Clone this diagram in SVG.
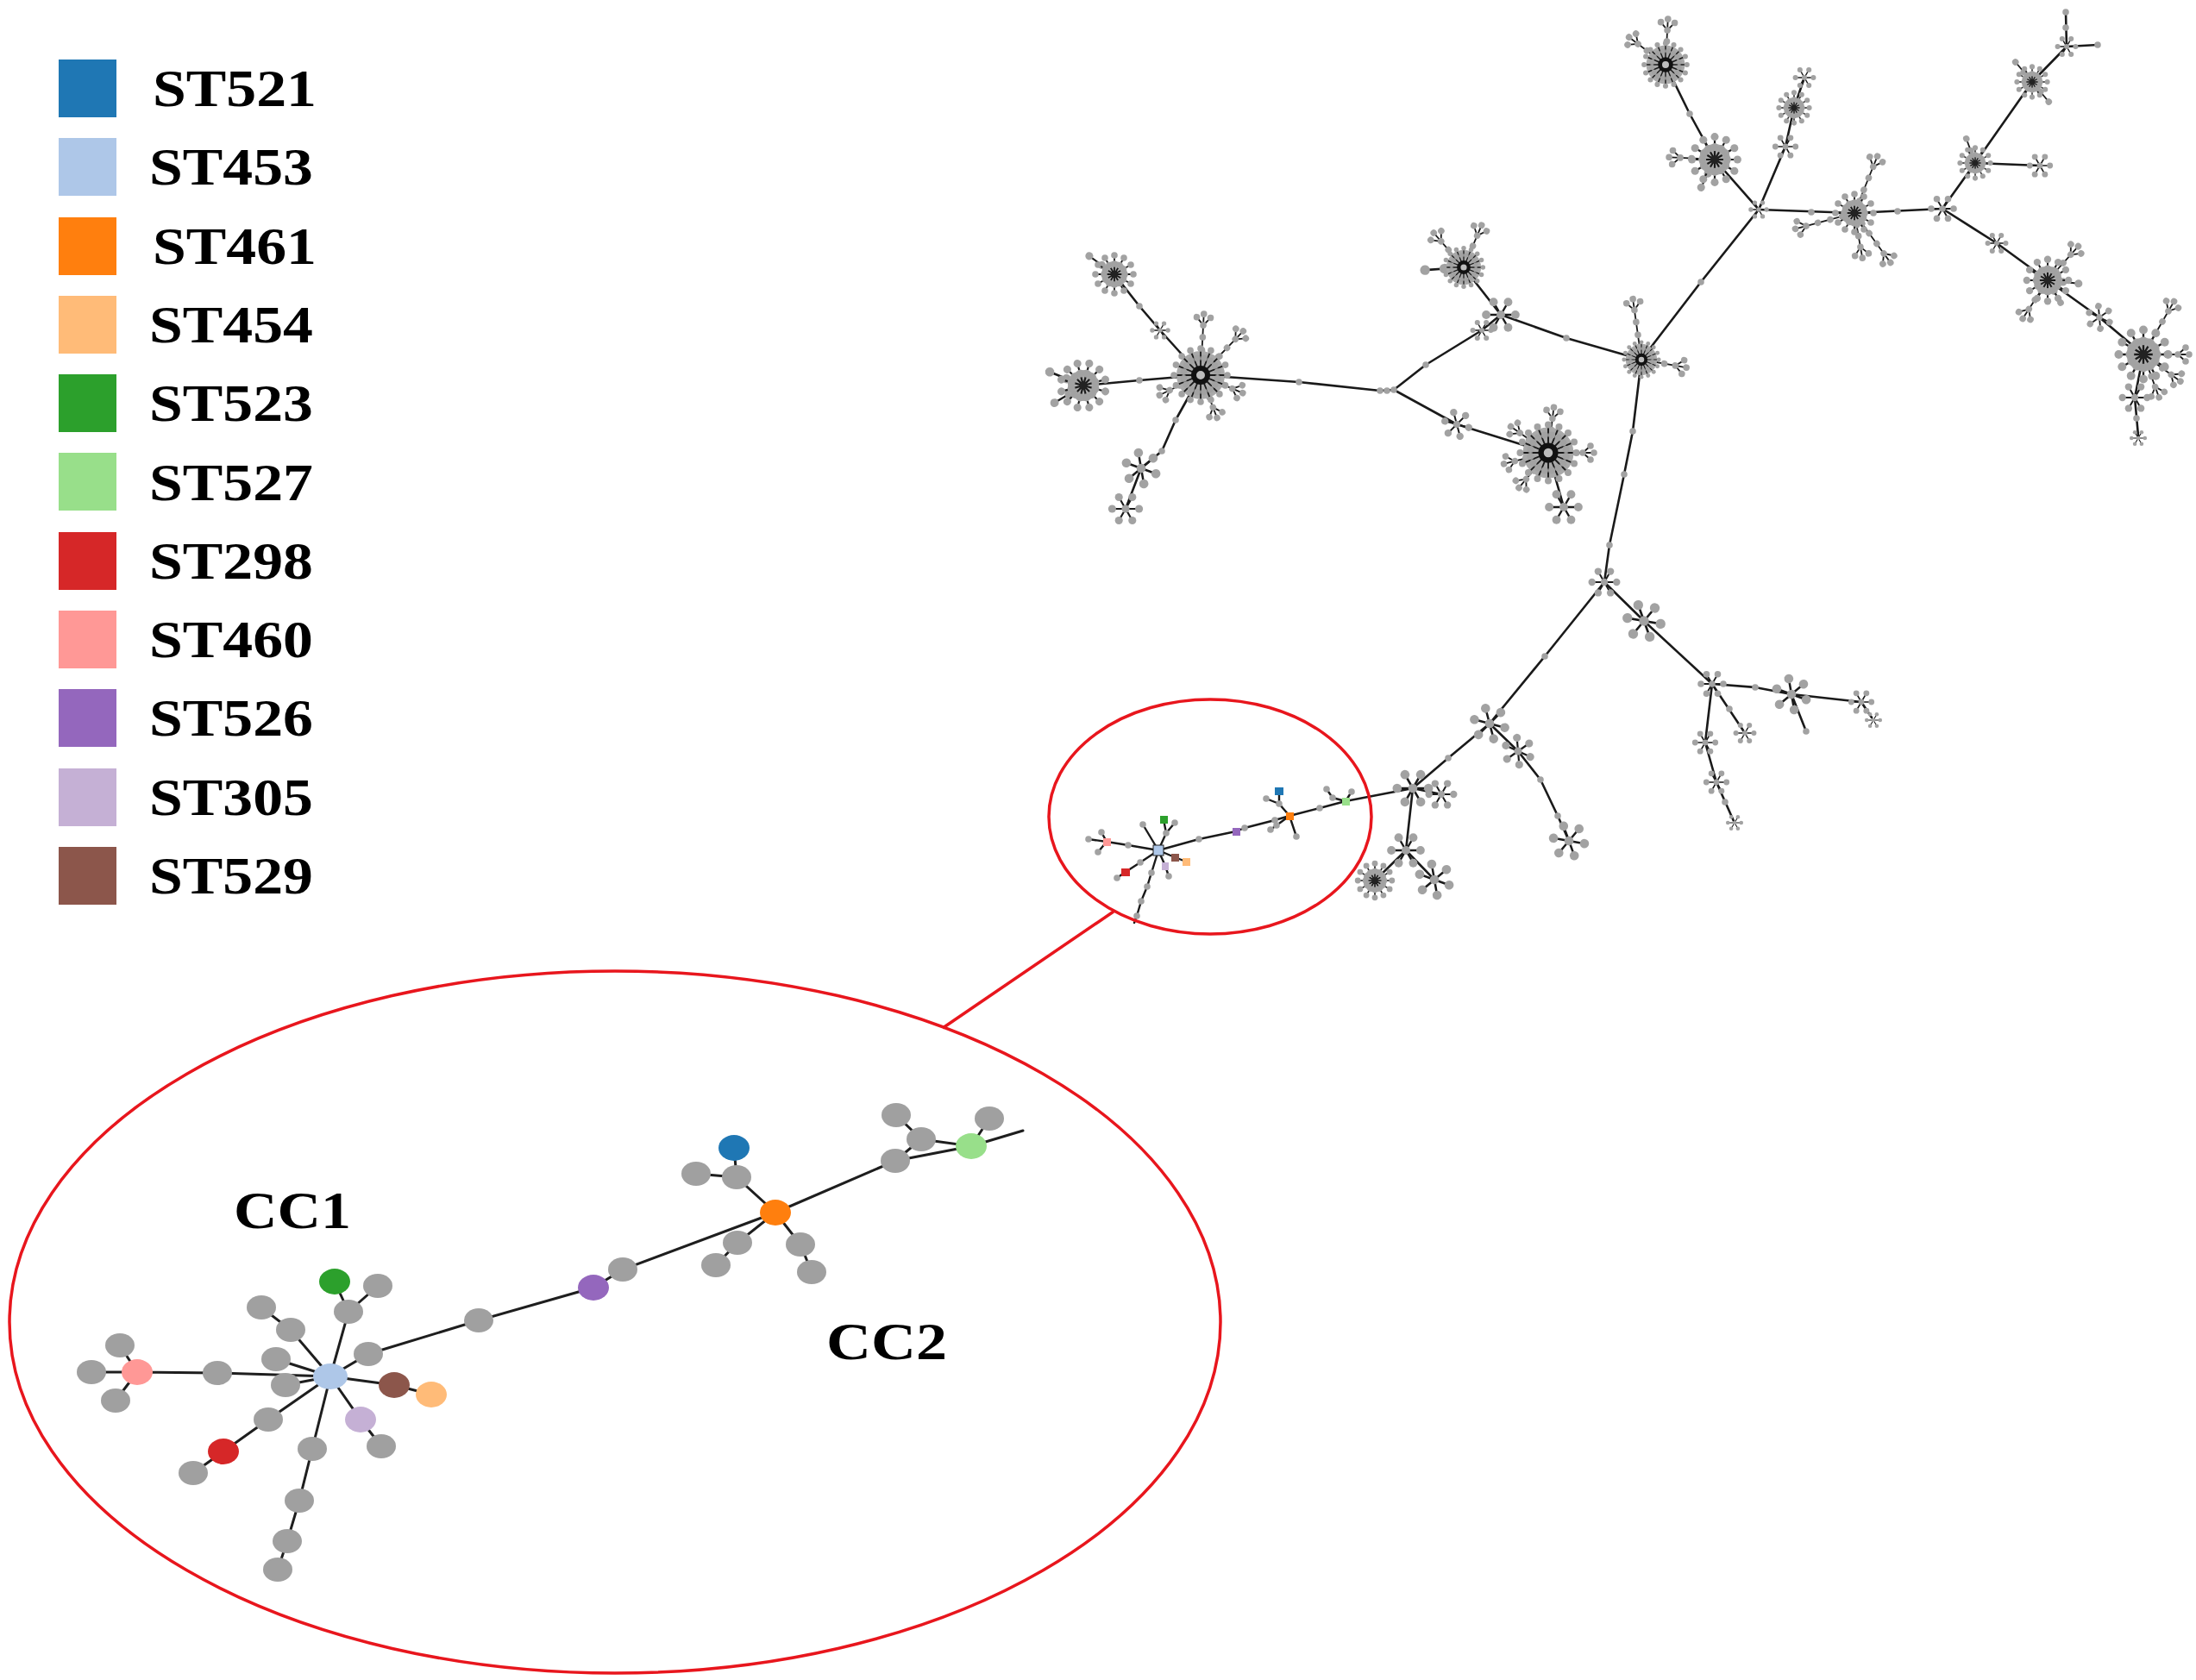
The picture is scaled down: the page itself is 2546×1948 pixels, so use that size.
<svg xmlns="http://www.w3.org/2000/svg" width="2546" height="1948" viewBox="0 0 2546 1948">
<style>
.lg{font-family:"Liberation Serif","Times New Roman",serif;font-weight:bold;font-size:62px;fill:#000}
.e{stroke:#1a1a1a;stroke-width:2.6;fill:none;stroke-linecap:round;stroke-linejoin:round}
.me{stroke:#1a1a1a;stroke-width:2.4;fill:none;stroke-linecap:round;stroke-linejoin:round}
.ie{stroke:#1e1e1e;stroke-width:3;fill:none;stroke-linecap:round}
.rd{stroke:#e8161d;stroke-width:3.5;fill:none}
.gn{fill:#a0a0a0}
.sp{stroke:#1a1a1a;stroke-width:1.8;fill:none}
</style>
<defs>
<circle id="d" r="3.8" fill="#a2a2a2"/>
<g id="ss">
<path class="sp" d="M0 0L13 0M0 0L6.5 11.3M0 0L-6.5 11.3M0 0L-13 0M0 0L-6.5 -11.3M0 0L6.5 -11.3"/>
<use href="#d" x="13" y="0"/><use href="#d" x="6.5" y="11.3"/><use href="#d" x="-6.5" y="11.3"/><use href="#d" x="-13" y="0"/><use href="#d" x="-6.5" y="-11.3"/><use href="#d" x="6.5" y="-11.3"/><use href="#d"/>
</g>
<g id="sm">
<circle r="15" fill="#ababab"/>
<path class="sp" d="M0 0L22 0M0 0L19 11M0 0L11 19M0 0L0 22M0 0L-11 19M0 0L-19 11M0 0L-22 0M0 0L-19 -11M0 0L-11 -19M0 0L0 -22M0 0L11 -19M0 0L19 -11"/>
<use href="#d" x="22" y="0"/><use href="#d" x="19" y="11"/><use href="#d" x="11" y="19"/><use href="#d" x="0" y="22"/><use href="#d" x="-11" y="19"/><use href="#d" x="-19" y="11"/><use href="#d" x="-22" y="0"/><use href="#d" x="-19" y="-11"/><use href="#d" x="-11" y="-19"/><use href="#d" x="0" y="-22"/><use href="#d" x="11" y="-19"/><use href="#d" x="19" y="-11"/>
<use href="#d" x="12" y="0"/><use href="#d" x="10.4" y="6"/><use href="#d" x="6" y="10.4"/><use href="#d" x="0" y="12"/><use href="#d" x="-6" y="10.4"/><use href="#d" x="-10.4" y="6"/><use href="#d" x="-12" y="0"/><use href="#d" x="-10.4" y="-6"/><use href="#d" x="-6" y="-10.4"/><use href="#d" x="0" y="-12"/><use href="#d" x="6" y="-10.4"/><use href="#d" x="10.4" y="-6"/>
<circle r="4" fill="#222"/>
</g>
<g id="sb">
<circle r="28" fill="#a9a9a9"/>
<path class="sp" d="M0 0L32 0M0 0L29.6 12.2M0 0L22.6 22.6M0 0L12.2 29.6M0 0L0 32M0 0L-12.2 29.6M0 0L-22.6 22.6M0 0L-29.6 12.2M0 0L-32 0M0 0L-29.6 -12.2M0 0L-22.6 -22.6M0 0L-12.2 -29.6M0 0L0 -32M0 0L12.2 -29.6M0 0L22.6 -22.6M0 0L29.6 -12.2"/>
<use href="#d" x="31" y="0"/><use href="#d" x="28.6" y="11.9"/><use href="#d" x="21.9" y="21.9"/><use href="#d" x="11.9" y="28.6"/><use href="#d" x="0" y="31"/><use href="#d" x="-11.9" y="28.6"/><use href="#d" x="-21.9" y="21.9"/><use href="#d" x="-28.6" y="11.9"/><use href="#d" x="-31" y="0"/><use href="#d" x="-28.6" y="-11.9"/><use href="#d" x="-21.9" y="-21.9"/><use href="#d" x="-11.9" y="-28.6"/><use href="#d" x="0" y="-31"/><use href="#d" x="11.9" y="-28.6"/><use href="#d" x="21.9" y="-21.9"/><use href="#d" x="28.6" y="-11.9"/>
<use href="#d" x="19.6" y="3.9"/><use href="#d" x="16.6" y="11.1"/><use href="#d" x="11.1" y="16.6"/><use href="#d" x="3.9" y="19.6"/><use href="#d" x="-3.9" y="19.6"/><use href="#d" x="-11.1" y="16.6"/><use href="#d" x="-16.6" y="11.1"/><use href="#d" x="-19.6" y="3.9"/><use href="#d" x="-19.6" y="-3.9"/><use href="#d" x="-16.6" y="-11.1"/><use href="#d" x="-11.1" y="-16.6"/><use href="#d" x="-3.9" y="-19.6"/><use href="#d" x="3.9" y="-19.6"/><use href="#d" x="11.1" y="-16.6"/><use href="#d" x="16.6" y="-11.1"/><use href="#d" x="19.6" y="-3.9"/>
<circle r="8" fill="#bdbdbd" stroke="#111" stroke-width="6"/>
</g>
<g id="arm">
<path class="sp" stroke-width="2" d="M0 0H40M40 0l9 -8M40 0l9 8M40 0h12"/>
<use href="#d" x="14"/><use href="#d" x="27"/><use href="#d" x="40"/><use href="#d" x="49" y="-8"/><use href="#d" x="49" y="8"/><use href="#d" x="53"/>
</g>
<g id="armL">
<path class="sp" stroke-width="2" d="M0 0H58M58 0l9 -8M58 0l9 8M58 0h12"/>
<use href="#d" x="15"/><use href="#d" x="29"/><use href="#d" x="44"/><use href="#d" x="58"/><use href="#d" x="67" y="-8"/><use href="#d" x="67" y="8"/><use href="#d" x="71"/>
</g>
<g id="armS">
<path class="sp" stroke-width="2" d="M0 0H30"/>
<use href="#d" x="15"/><use href="#d" x="30"/>
</g>
</defs>
<rect width="2546" height="1948" fill="#fff"/>

<g id="legend">
<g id="leg-ST521"><rect x="68" y="69" width="67" height="67" fill="#1f77b4"/><text class="lg" x="177" y="123" textLength="190" lengthAdjust="spacingAndGlyphs">ST521</text></g>
<g id="leg-ST453"><rect x="68" y="160" width="67" height="67" fill="#aec7e8"/><text class="lg" x="173" y="214" textLength="190" lengthAdjust="spacingAndGlyphs">ST453</text></g>
<g id="leg-ST461"><rect x="68" y="252" width="67" height="67" fill="#ff7f0e"/><text class="lg" x="177" y="306" textLength="190" lengthAdjust="spacingAndGlyphs">ST461</text></g>
<g id="leg-ST454"><rect x="68" y="343" width="67" height="67" fill="#ffbb78"/><text class="lg" x="173" y="397" textLength="190" lengthAdjust="spacingAndGlyphs">ST454</text></g>
<g id="leg-ST523"><rect x="68" y="434" width="67" height="67" fill="#2ca02c"/><text class="lg" x="173" y="488" textLength="190" lengthAdjust="spacingAndGlyphs">ST523</text></g>
<g id="leg-ST527"><rect x="68" y="525" width="67" height="67" fill="#98df8a"/><text class="lg" x="173" y="580" textLength="190" lengthAdjust="spacingAndGlyphs">ST527</text></g>
<g id="leg-ST298"><rect x="68" y="617" width="67" height="67" fill="#d62728"/><text class="lg" x="173" y="671" textLength="190" lengthAdjust="spacingAndGlyphs">ST298</text></g>
<g id="leg-ST460"><rect x="68" y="708" width="67" height="67" fill="#ff9896"/><text class="lg" x="173" y="762" textLength="190" lengthAdjust="spacingAndGlyphs">ST460</text></g>
<g id="leg-ST526"><rect x="68" y="799" width="67" height="67" fill="#9467bd"/><text class="lg" x="173" y="853" textLength="190" lengthAdjust="spacingAndGlyphs">ST526</text></g>
<g id="leg-ST305"><rect x="68" y="891" width="67" height="67" fill="#c5b0d5"/><text class="lg" x="173" y="945" textLength="190" lengthAdjust="spacingAndGlyphs">ST305</text></g>
<g id="leg-ST529"><rect x="68" y="982" width="67" height="67" fill="#8c564b"/><text class="lg" x="173" y="1036" textLength="190" lengthAdjust="spacingAndGlyphs">ST529</text></g>
</g>

<!-- overview tree connectors -->
<g id="tree-connectors" class="e">
<path d="M1292 318L1321 355L1345 383L1392 435"/>
<path d="M1256 447L1321 441L1392 435"/>
<path d="M1392 435L1506 443L1600 453L1616 452"/>
<path d="M1392 435L1363 487L1347 523L1323 543L1305 590"/>
<path d="M1616 452L1653 423L1718 383L1740 365"/>
<path d="M1740 365L1697 310"/>
<path d="M1740 365L1816 392L1903 417"/>
<path d="M1616 452L1689 492L1795 525"/>
<path d="M1795 525L1813 588"/>
<path d="M1903 417L1972 327L2039 243"/>
<path d="M1931 75L1959 132L1988 185L2039 243"/>
<path d="M2039 243L2070 170L2080 125L2092 90"/>
<path d="M2039 243L2150 247L2252 242"/>
<path d="M2252 242L2290 189L2356 95L2396 54L2395 14"/>
<path d="M2396 54L2432 52"/>
<path d="M2290 189L2365 192"/>
<path d="M2252 242L2315 282L2374 325L2434 368L2485 411L2475 461L2479 505"/>
<path d="M1903 417L1893 500L1883 550L1866 632L1860 675"/>
<path d="M1860 675L1791 761L1727 839L1679 879L1638 914L1560 929"/>
<path d="M1727 839L1760 871L1786 904L1806 946L1819 975"/>
<path d="M1638 914L1630 986L1594 1021"/>
<path d="M1630 986L1663 1020"/>
<path d="M1638 914L1671 921"/>
<path d="M1860 675L1906 720L1985 793L2035 797L2077 805L2158 814L2170 832"/>
<path d="M1985 793L1977 861L1990 907L2010 952"/>
<path d="M1985 793L2023 850"/>
<path d="M2077 805L2094 848"/>
</g>

<g id="tree-nodes">
<g id="arms">
<use href="#armL" transform="translate(1392 435) rotate(-87)"/>
<use href="#armL" transform="translate(1392 435) rotate(-46)"/>
<use href="#arm" transform="translate(1392 435) rotate(23)"/>
<use href="#arm" transform="translate(1392 435) rotate(69)"/>
<use href="#arm" transform="translate(1392 435) rotate(154)"/>
<use href="#arm" transform="translate(1795 525) rotate(-83)"/>
<use href="#arm" transform="translate(1795 525) rotate(-145)"/>
<use href="#arm" transform="translate(1795 525) rotate(0)"/>
<use href="#arm" transform="translate(1795 525) rotate(166)"/>
<use href="#arm" transform="translate(1795 525) rotate(130)"/>
<use href="#armS" transform="translate(1256 447) rotate(-158) scale(1.4)"/>
<use href="#armS" transform="translate(1256 447) rotate(149) scale(1.3)"/>
<use href="#armS" transform="translate(1292 318) rotate(-144) scale(1.2)"/>
<use href="#arm" transform="translate(1697 310) rotate(-131)"/>
<use href="#arm" transform="translate(1697 310) rotate(-67)"/>
<use href="#armS" transform="translate(1697 310) rotate(176) scale(1.5)"/>
<use href="#armL" transform="translate(1903 417) rotate(-98)"/>
<use href="#arm" transform="translate(1903 417) rotate(10)"/>
<use href="#arm" transform="translate(1931 75) rotate(-87)"/>
<use href="#arm" transform="translate(1931 75) rotate(-143)"/>
<use href="#arm" transform="translate(1988 185) rotate(183)"/>
<use href="#armS" transform="translate(1988 185) rotate(116) scale(1.2)"/>
<use href="#armL" transform="translate(2150 247) rotate(-68)"/>
<use href="#armL" transform="translate(2150 247) rotate(54)"/>
<use href="#arm" transform="translate(2150 247) rotate(80)"/>
<use href="#armL" transform="translate(2150 247) rotate(165)"/>
<use href="#armS" transform="translate(2290 189) rotate(-110)"/>
<use href="#armS" transform="translate(2356 95) rotate(-130)"/>
<use href="#armS" transform="translate(2356 95) rotate(50)"/>
<use href="#arm" transform="translate(2374 325) rotate(-48)"/>
<use href="#arm" transform="translate(2374 325) rotate(123)"/>
<use href="#armS" transform="translate(2374 325) rotate(6) scale(1.2)"/>
<use href="#armS" transform="translate(2374 325) rotate(60)"/>
<use href="#armL" transform="translate(2485 411) rotate(-60)"/>
<use href="#arm" transform="translate(2485 411) rotate(0)"/>
<use href="#arm" transform="translate(2485 411) rotate(36)"/>
<use href="#arm" transform="translate(2485 411) rotate(70)"/>
</g>
<g id="path-nodes">
<use href="#d" x="1321" y="355"/><use href="#d" x="1321" y="441"/><use href="#d" x="1506" y="443"/><use href="#d" x="1600" y="453"/><use href="#d" x="1608" y="453"/>
<use href="#d" x="1363" y="487"/><use href="#d" x="1347" y="523"/><use href="#d" x="1653" y="423"/><use href="#d" x="1816" y="392"/><use href="#d" x="1972" y="327"/>
<use href="#d" x="1959" y="132"/><use href="#d" x="2100" y="246"/><use href="#d" x="2200" y="245"/><use href="#d" x="1893" y="500"/><use href="#d" x="1883" y="550"/>
<use href="#d" x="1866" y="632"/><use href="#d" x="1791" y="761"/><use href="#d" x="1679" y="879"/><use href="#d" x="1786" y="904"/><use href="#d" x="1806" y="946"/>
<use href="#d" x="2035" y="797"/><use href="#d" x="2005" y="822"/><use href="#d" x="2395" y="14"/><use href="#d" x="2395" y="32"/><use href="#d" x="2432" y="52"/>
<use href="#d" x="2094" y="848"/><use href="#d" x="1616" y="452"/><use href="#d" x="2000" y="930"/><use href="#d" x="2477" y="485"/>
</g>
<g id="hub-H1"><use href="#sb" transform="translate(1392 435)"/></g>
<g id="hub-H6"><use href="#sb" transform="translate(1795 525) scale(1.05)"/></g>
<g id="hub-H5"><use href="#sb" transform="translate(1697 310) scale(0.72)"/></g>
<g id="hub-H7"><use href="#sb" transform="translate(1903 417) scale(0.65)"/></g>
<g id="hub-H8"><use href="#sb" transform="translate(1931 75) scale(0.8)"/></g>
<g id="hub-H12"><use href="#sm" transform="translate(2485 411) scale(1.3)"/></g>
<g id="hub-H2"><use href="#sm" transform="translate(1256 447) scale(1.2) rotate(15)"/></g>
<g id="hub-H3"><use href="#sm" transform="translate(1292 318)"/></g>
<g id="hub-H9"><use href="#sm" transform="translate(1988 185) scale(1.2)"/></g>
<g id="hub-H10"><use href="#sm" transform="translate(2150 247)"/></g>
<g id="hub-H11"><use href="#sm" transform="translate(2374 325) scale(1.1)"/></g>
<g id="hub-a"><use href="#sm" transform="translate(2080 125) scale(0.8)"/></g>
<g id="hub-b"><use href="#sm" transform="translate(2290 189) scale(0.8)"/></g>
<g id="hub-c"><use href="#sm" transform="translate(2356 95) scale(0.8)"/></g>
<g id="hub-d"><use href="#sm" transform="translate(1594 1021) scale(0.9)"/></g>
<g id="small-stars">
<use href="#ss" transform="translate(1345 383) scale(0.7)"/>
<use href="#ss" transform="translate(1323 543) scale(1.4) rotate(20)"/>
<use href="#ss" transform="translate(1305 590) scale(1.2)"/>
<use href="#ss" transform="translate(1740 365) scale(1.3)"/>
<use href="#ss" transform="translate(1718 383) scale(0.8)"/>
<use href="#ss" transform="translate(1689 492) scale(1.1) rotate(15)"/>
<use href="#ss" transform="translate(1813 588) scale(1.3)"/>
<use href="#ss" transform="translate(2070 170) scale(0.9)"/>
<use href="#ss" transform="translate(2092 90) scale(0.8)"/>
<use href="#ss" transform="translate(2039 243) scale(0.7)"/>
<use href="#ss" transform="translate(2252 242) scale(1.0)"/>
<use href="#ss" transform="translate(2396 54) scale(0.8)"/>
<use href="#ss" transform="translate(2365 192) scale(0.9)"/>
<use href="#ss" transform="translate(2315 282) scale(0.8)"/>
<use href="#ss" transform="translate(2434 368) scale(1.0) rotate(25)"/>
<use href="#ss" transform="translate(2475 461) scale(1.1)"/>
<use href="#ss" transform="translate(2479 508) scale(0.6)"/>
<use href="#ss" transform="translate(1860 675) scale(1.1)"/>
<use href="#ss" transform="translate(1906 720) scale(1.5) rotate(10)"/>
<use href="#ss" transform="translate(1985 793) scale(1.0)"/>
<use href="#ss" transform="translate(2077 805) scale(1.4) rotate(20)"/>
<use href="#ss" transform="translate(2158 814) scale(0.9)"/>
<use href="#ss" transform="translate(2172 835) scale(0.6)"/>
<use href="#ss" transform="translate(2023 850) scale(0.8)"/>
<use href="#ss" transform="translate(1977 861) scale(0.9)"/>
<use href="#ss" transform="translate(1990 907) scale(0.9)"/>
<use href="#ss" transform="translate(2011 954) scale(0.6)"/>
<use href="#ss" transform="translate(1727 839) scale(1.4) rotate(15)"/>
<use href="#ss" transform="translate(1638 914) scale(1.4)"/>
<use href="#ss" transform="translate(1760 871) scale(1.2) rotate(25)"/>
<use href="#ss" transform="translate(1819 975) scale(1.4) rotate(10)"/>
<use href="#ss" transform="translate(1630 986) scale(1.3)"/>
<use href="#ss" transform="translate(1663 1020) scale(1.4) rotate(20)"/>
<use href="#ss" transform="translate(1671 921) scale(1.1)"/>
</g>
</g>

<!-- mini CC region in the overview -->
<g id="mini-connectors" class="me">
<path d="M1343 986L1390 973L1433 964L1443 960L1478 951L1495 946L1530 937L1560 929"/>
<path d="M1343 986L1352 966L1349 950M1352 966L1362 954M1343 986L1325 956"/>
<path d="M1343 986L1308 980L1283 976M1283 976L1277 965M1283 976L1262 973M1283 976L1273 988"/>
<path d="M1343 986L1322 1000L1305 1011L1295 1018"/>
<path d="M1343 986L1362 994L1375 999M1343 986L1351 1004L1355 1016"/>
<path d="M1343 986L1335 1012L1330 1028L1323 1045L1318 1062L1315 1070"/>
<path d="M1495 946L1483 932L1483 918M1483 932L1468 926M1495 946L1503 970M1495 946L1480 957L1473 962"/>
<path d="M1560 929L1545 925L1538 915M1560 929L1567 918"/>
</g>
<g id="mini-nodes">
<use href="#d" x="1390" y="973"/><use href="#d" x="1443" y="960"/><use href="#d" x="1478" y="951"/><use href="#d" x="1530" y="937"/><use href="#d" x="1352" y="966"/>
<use href="#d" x="1362" y="954"/><use href="#d" x="1325" y="956"/><use href="#d" x="1308" y="980"/><use href="#d" x="1277" y="965"/><use href="#d" x="1262" y="973"/>
<use href="#d" x="1273" y="988"/><use href="#d" x="1322" y="1000"/><use href="#d" x="1295" y="1018"/><use href="#d" x="1355" y="1016"/><use href="#d" x="1335" y="1012"/>
<use href="#d" x="1330" y="1028"/><use href="#d" x="1323" y="1045"/><use href="#d" x="1318" y="1062"/><use href="#d" x="1483" y="932"/><use href="#d" x="1468" y="926"/>
<use href="#d" x="1503" y="970"/><use href="#d" x="1480" y="957"/><use href="#d" x="1473" y="962"/><use href="#d" x="1545" y="925"/><use href="#d" x="1538" y="915"/><use href="#d" x="1567" y="918"/>
<rect x="1337" y="980" width="12" height="12" fill="#aec7e8" stroke="#222" stroke-width="1"/>
<rect x="1345" y="946" width="9" height="9" fill="#2ca02c"/>
<rect x="1279" y="972" width="9" height="9" fill="#ff9896"/>
<rect x="1300" y="1007" width="10" height="9" fill="#d62728"/>
<rect x="1358" y="990" width="9" height="9" fill="#8c564b"/>
<rect x="1371" y="995" width="9" height="9" fill="#ffbb78"/>
<rect x="1347" y="1000" width="8" height="9" fill="#c5b0d5"/>
<rect x="1429" y="960" width="9" height="9" fill="#9467bd"/>
<rect x="1491" y="942" width="9" height="9" fill="#ff7f0e"/>
<rect x="1478" y="913" width="10" height="9" fill="#1f77b4"/>
<rect x="1556" y="925" width="9" height="9" fill="#98df8a"/>
</g>

<!-- highlight ellipses -->
<g id="highlight">
<ellipse class="rd" cx="1403" cy="947" rx="187" ry="136"/>
<line class="rd" x1="1291" y1="1057" x2="1093" y2="1192"/>
<ellipse class="rd" cx="713" cy="1533" rx="702" ry="407"/>
</g>

<!-- enlarged inset -->
<g id="inset-connectors" class="ie">
<path d="M383 1596L427 1570L555 1531L688 1493L722 1472L899 1406L1038 1346L1126 1329L1186 1311"/>
<path d="M383 1596L404 1521L388 1486M404 1521L438 1491"/>
<path d="M383 1596L337 1542L303 1516"/>
<path d="M383 1596L320 1576M383 1596L331 1606"/>
<path d="M383 1596L252 1592L159 1591M159 1591L139 1560M159 1591L106 1591M159 1591L134 1624"/>
<path d="M383 1596L311 1646L259 1683L224 1708"/>
<path d="M383 1596L362 1680L347 1740L333 1787L322 1820"/>
<path d="M383 1596L418 1646L442 1677"/>
<path d="M383 1596L457 1606L500 1617"/>
<path d="M899 1406L854 1365L851 1331M854 1365L807 1361"/>
<path d="M899 1406L855 1441L830 1467"/>
<path d="M899 1406L928 1443L941 1475"/>
<path d="M1038 1346L1068 1321L1039 1293M1068 1321L1126 1329L1147 1297"/>
</g>
<g id="inset-nodes">
<g id="g1"><ellipse class="gn" cx="807" cy="1361" rx="17" ry="14"/></g>
<g id="g2"><ellipse class="gn" cx="854" cy="1365" rx="17" ry="14"/></g>
<g id="g3"><ellipse class="gn" cx="855" cy="1441" rx="17" ry="14"/></g>
<g id="g4"><ellipse class="gn" cx="830" cy="1467" rx="17" ry="14"/></g>
<g id="g5"><ellipse class="gn" cx="928" cy="1443" rx="17" ry="14"/></g>
<g id="g6"><ellipse class="gn" cx="941" cy="1475" rx="17" ry="14"/></g>
<g id="g7"><ellipse class="gn" cx="1039" cy="1293" rx="17" ry="14"/></g>
<g id="g8"><ellipse class="gn" cx="1068" cy="1321" rx="17" ry="14"/></g>
<g id="g9"><ellipse class="gn" cx="1038" cy="1346" rx="17" ry="14"/></g>
<g id="g10"><ellipse class="gn" cx="1147" cy="1297" rx="17" ry="14"/></g>
<g id="g11"><ellipse class="gn" cx="722" cy="1472" rx="17" ry="14"/></g>
<g id="g12"><ellipse class="gn" cx="555" cy="1531" rx="17" ry="14"/></g>
<g id="g13"><ellipse class="gn" cx="427" cy="1570" rx="17" ry="14"/></g>
<g id="g14"><ellipse class="gn" cx="404" cy="1521" rx="17" ry="14"/></g>
<g id="g15"><ellipse class="gn" cx="438" cy="1491" rx="17" ry="14"/></g>
<g id="g16"><ellipse class="gn" cx="303" cy="1516" rx="17" ry="14"/></g>
<g id="g17"><ellipse class="gn" cx="337" cy="1542" rx="17" ry="14"/></g>
<g id="g18"><ellipse class="gn" cx="320" cy="1576" rx="17" ry="14"/></g>
<g id="g19"><ellipse class="gn" cx="331" cy="1606" rx="17" ry="14"/></g>
<g id="g20"><ellipse class="gn" cx="252" cy="1592" rx="17" ry="14"/></g>
<g id="g21"><ellipse class="gn" cx="139" cy="1560" rx="17" ry="14"/></g>
<g id="g22"><ellipse class="gn" cx="106" cy="1591" rx="17" ry="14"/></g>
<g id="g23"><ellipse class="gn" cx="134" cy="1624" rx="17" ry="14"/></g>
<g id="g24"><ellipse class="gn" cx="442" cy="1677" rx="17" ry="14"/></g>
<g id="g25"><ellipse class="gn" cx="311" cy="1646" rx="17" ry="14"/></g>
<g id="g26"><ellipse class="gn" cx="224" cy="1708" rx="17" ry="14"/></g>
<g id="g27"><ellipse class="gn" cx="362" cy="1680" rx="17" ry="14"/></g>
<g id="g28"><ellipse class="gn" cx="347" cy="1740" rx="17" ry="14"/></g>
<g id="g29"><ellipse class="gn" cx="333" cy="1787" rx="17" ry="14"/></g>
<g id="g30"><ellipse class="gn" cx="322" cy="1820" rx="17" ry="14"/></g>
<g id="n-ST521"><ellipse cx="851" cy="1331" rx="18" ry="15" fill="#1f77b4"/></g>
<g id="n-ST461"><ellipse cx="899" cy="1406" rx="18" ry="15" fill="#ff7f0e"/></g>
<g id="n-ST527"><ellipse cx="1126" cy="1329" rx="18" ry="15" fill="#98df8a"/></g>
<g id="n-ST526"><ellipse cx="688" cy="1493" rx="18" ry="15" fill="#9467bd"/></g>
<g id="n-ST453"><ellipse cx="383" cy="1596" rx="20" ry="15" fill="#aec7e8"/></g>
<g id="n-ST523"><ellipse cx="388" cy="1486" rx="18" ry="15" fill="#2ca02c"/></g>
<g id="n-ST460"><ellipse cx="159" cy="1591" rx="18" ry="15" fill="#ff9896"/></g>
<g id="n-ST529"><ellipse cx="457" cy="1606" rx="18" ry="15" fill="#8c564b"/></g>
<g id="n-ST454"><ellipse cx="500" cy="1617" rx="18" ry="15" fill="#ffbb78"/></g>
<g id="n-ST305"><ellipse cx="418" cy="1646" rx="18" ry="15" fill="#c5b0d5"/></g>
<g id="n-ST298"><ellipse cx="259" cy="1683" rx="18" ry="15" fill="#d62728"/></g>
</g>
<g id="labels">
<text class="lg" x="271" y="1424" textLength="136" lengthAdjust="spacingAndGlyphs">CC1</text>
<text class="lg" x="958" y="1576" textLength="140" lengthAdjust="spacingAndGlyphs">CC2</text>
</g>
</svg>
